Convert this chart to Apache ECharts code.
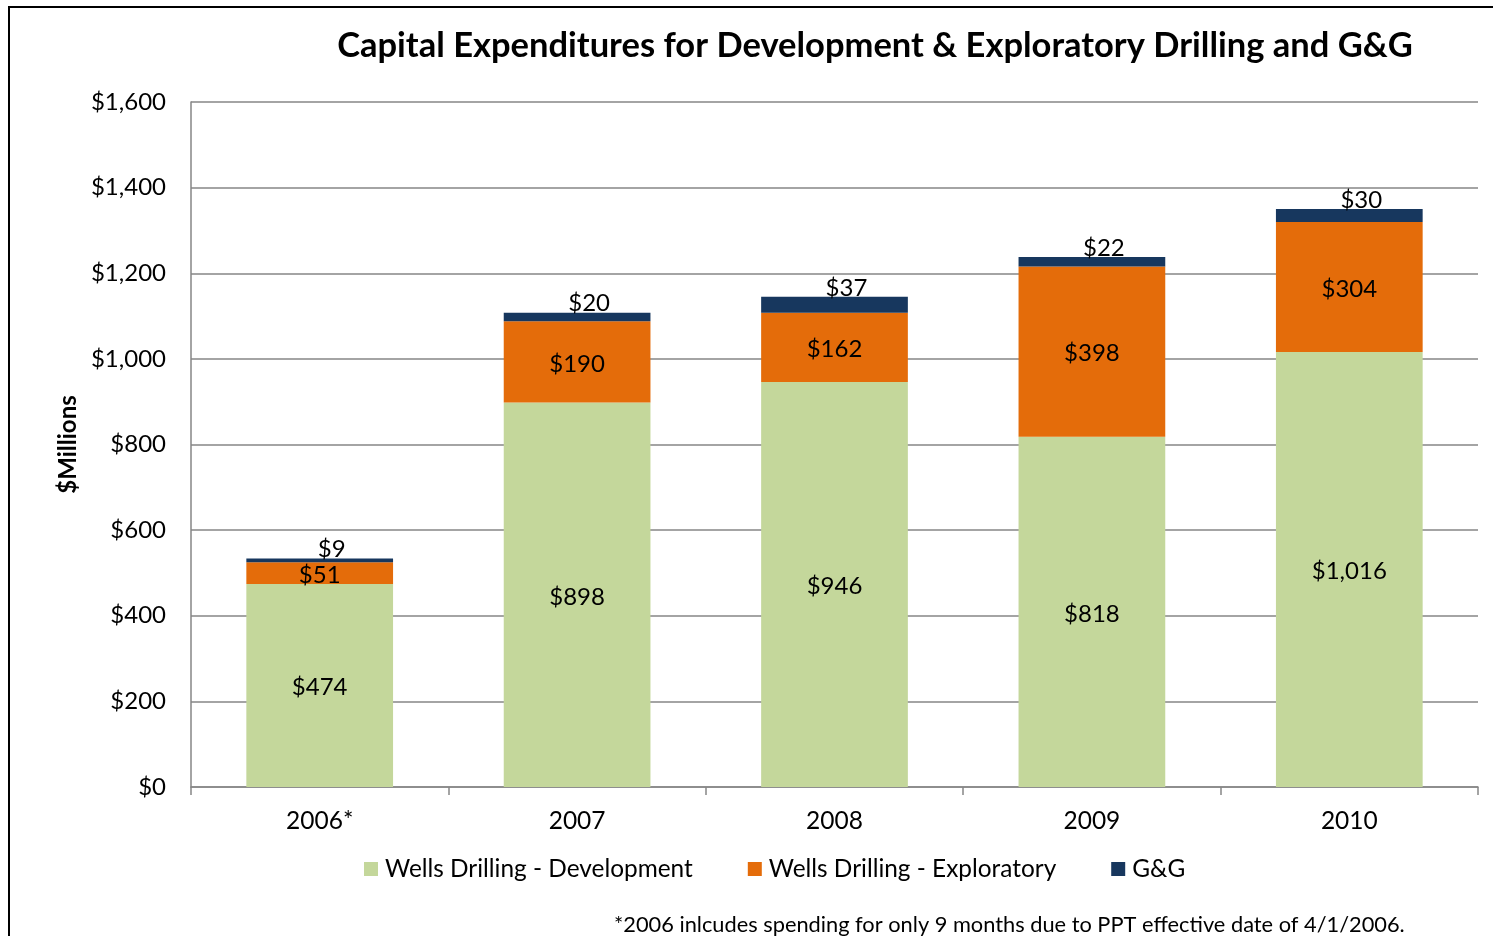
<!DOCTYPE html>
<html>
<head>
<meta charset="UTF-8">
<title>Capital Expenditures</title>
<script src="https://cdn.jsdelivr.net/npm/echarts@6/dist/echarts.min.js"></script>
<style>
  html, body { margin: 0; padding: 0; background: #fff; }
  #chart { width: 1493px; height: 936px; }
</style>
</head>
<body>
<div id="chart"></div>
<script type="text/javascript">
var years = ['2006*', '2007', '2008', '2009', '2010'];
var development = [474, 898, 946, 818, 1016];
var exploratory = [51, 190, 162, 398, 304];
var gng = [9, 20, 37, 22, 30];
var yTicks = [0, 200, 400, 600, 800, 1000, 1200, 1400, 1600];

var FONT = 'Lato';

function money(v) {
  return '$' + Number(v).toLocaleString('en-US');
}

var myChart = echarts.init(document.getElementById('chart'));

var insideLabel = {
  show: true,
  position: 'inside',
  color: '#000',
  fontFamily: FONT,
  fontSize: 24,
  offset: [0, 2],
  formatter: function (p) { return money(p.value); }
};

var option = {
  animation: false,
  backgroundColor: '#fff',
  title: {
    text: 'Capital Expenditures for Development & Exploratory Drilling and G&G',
    left: 870,
    top: 23,
    textAlign: 'center',
    textStyle: { fontFamily: FONT, fontSize: 34.5, fontWeight: 'bold', color: '#000' }
  },
  graphic: [
    {
      type: 'rect',
      shape: { x: 9, y: 7, width: 1600, height: 1000 },
      style: { fill: 'none', stroke: '#000', lineWidth: 2 },
      silent: true
    },
    {
      type: 'text',
      left: 614,
      top: 914,
      style: {
        text: '*2006 inlcudes spending for only 9 months due to PPT effective date of 4/1/2006.',
        font: '21.8px Lato',
        fill: '#000'
      }
    }
  ],
  legend: {
    left: 359,
    top: 852,
    itemWidth: 14,
    itemHeight: 14,
    itemGap: 55,
    icon: 'rect',
    textStyle: { fontFamily: FONT, fontSize: 24.4, color: '#000', padding: [0, 0, 0, 2] },
    data: ['Wells Drilling - Development', 'Wells Drilling - Exploratory', 'G&G']
  },
  grid: {
    left: 191,
    right: 15,
    top: 102,
    bottom: 149
  },
  xAxis: {
    type: 'category',
    data: years,
    axisLine: { lineStyle: { color: '#868686', width: 1.5 } },
    axisTick: { show: true, length: 8, lineStyle: { color: '#868686', width: 1.5 } },
    axisLabel: { color: '#000', fontFamily: FONT, fontSize: 24.5, margin: 22 }
  },
  yAxis: {
    type: 'value',
    min: 0,
    max: 1600,
    interval: 200,
    name: '$Millions',
    nameLocation: 'middle',
    nameGap: 110,
    nameRotate: 90,
    nameTextStyle: { fontFamily: FONT, fontSize: 24, fontWeight: 'bold', color: '#000' },
    axisLine: { show: true, lineStyle: { color: '#868686', width: 1.5 } },
    axisTick: { show: false },
    splitLine: { lineStyle: { color: '#868686', width: 1.5 } },
    axisLabel: {
      color: '#000',
      fontFamily: FONT,
      fontSize: 24,
      margin: 25,
      formatter: function (v) { return yTicks.indexOf(v) >= 0 ? money(v) : ''; }
    }
  },
  series: [
    {
      name: 'Wells Drilling - Development',
      type: 'bar',
      stack: 'capex',
      barWidth: '57%',
      data: development,
      itemStyle: { color: '#C4D79B' },
      label: insideLabel
    },
    {
      name: 'Wells Drilling - Exploratory',
      type: 'bar',
      stack: 'capex',
      data: exploratory,
      itemStyle: { color: '#E46C0A' },
      label: insideLabel
    },
    {
      name: 'G&G',
      type: 'bar',
      stack: 'capex',
      data: gng,
      itemStyle: { color: '#17375E' },
      label: {
        show: true,
        position: 'top',
        distance: 0,
        offset: [12, 3],
        color: '#000',
        fontFamily: FONT,
        fontSize: 24,
        formatter: function (p) { return money(p.value); }
      }
    }
  ]
};

myChart.setOption(option);
</script>
</body>
</html>
